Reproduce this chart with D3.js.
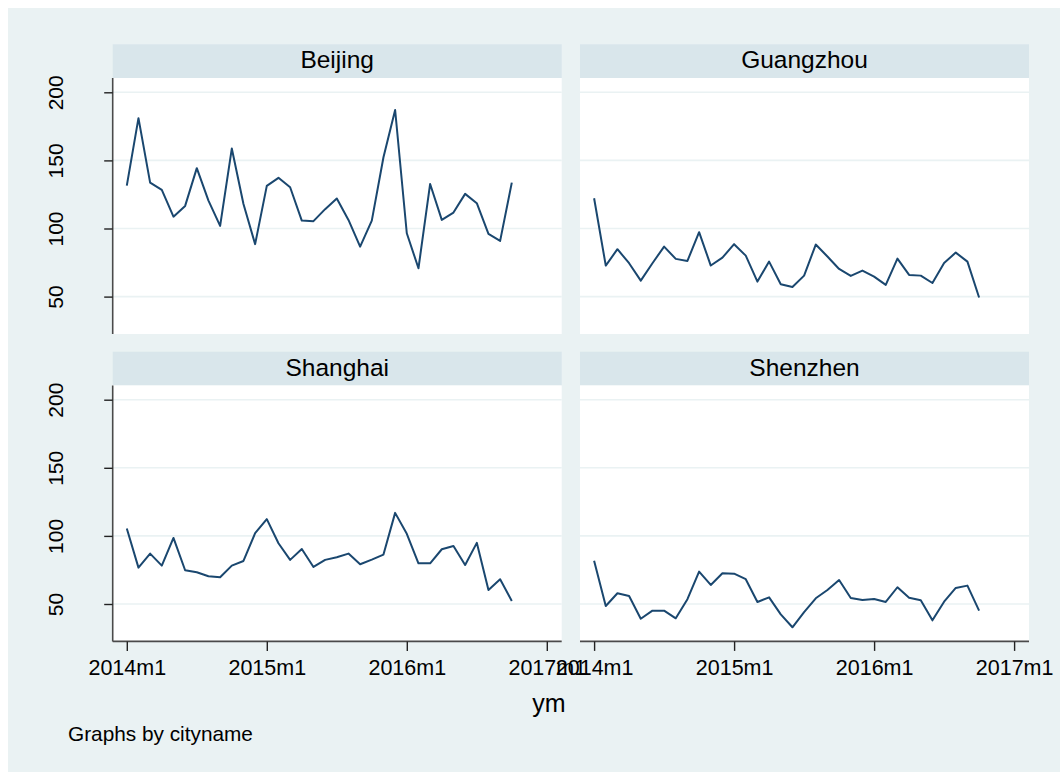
<!DOCTYPE html>
<html>
<head>
<meta charset="utf-8">
<script src="https://cdn.jsdelivr.net/npm/d3@7/dist/d3.min.js"></script>
<style>
  html, body { margin: 0; padding: 0; background: #ffffff; }
  svg { display: block; }
  text { font-family: "Liberation Sans", Arial, sans-serif; fill: #000; }
</style>
</head>
<body>
<svg id="chart" width="1060" height="772"></svg>
<script>
// ---------------- data ----------------
const cities = ["Beijing", "Guangzhou", "Shanghai", "Shenzhen"];
const months = ["2014m1","2014m2","2014m3","2014m4","2014m5","2014m6","2014m7","2014m8","2014m9","2014m10","2014m11","2014m12",
                "2015m1","2015m2","2015m3","2015m4","2015m5","2015m6","2015m7","2015m8","2015m9","2015m10","2015m11","2015m12",
                "2016m1","2016m2","2016m3","2016m4","2016m5","2016m6","2016m7","2016m8","2016m9","2016m10"];
const beijing   = [131.5,181,133.7,128.3,108.7,116.6,144.3,120.5,101.9,158.7,118,88.5,131.3,137.2,130.3,105.8,105.4,114.2,122,106.3,86.7,105.8,152.3,187,96.5,70.8,132.7,106.3,111.7,125.4,118.6,96,90.9,133.7];
const guangzhou = [122.2,72.8,84.8,74.5,61.7,74.5,86.7,77.7,76.2,97.3,72.8,78.6,88.5,80.1,61,75.7,59.1,57.1,65.4,88.2,79.4,70.3,65.2,69.1,64.7,58.6,77.9,65.9,65.4,60,74.7,82.3,75.7,49.3];
const shanghai  = [105.4,76.7,87,78.2,98.5,74.8,73.3,70.4,69.6,78.2,81.6,102,112.3,94.6,82.4,90.4,77.2,82.4,84.3,87,79.2,82.6,86.3,116.9,101.5,79.9,79.9,90.2,92.6,78.7,94.9,60.3,68.2,52.2];
const shenzhen  = [81.8,48.5,57.9,55.9,39.2,45.1,45.1,39.5,53.5,73.8,64,72.6,72.3,68.2,51.5,54.9,42.4,32.9,44.1,54.2,60.3,67.6,54.4,52.9,53.7,51.5,62.3,54.6,52.7,38,51.7,61.8,63.5,45.1];
const seriesByCity = [beijing, guangzhou, shanghai, shenzhen];
const xTickMonths = [0, 12, 24, 36];
const xTickLabels = ["2014m1", "2015m1", "2016m1", "2017m1"];
const yTicks = [50, 100, 150, 200];
const xTitle = "ym";
const noteText = "Graphs by cityname";

// ---------------- layout ----------------
const svg = d3.select("#chart");
const C = { bg: "#EAF2F3", strip: "#D9E6EB", plot: "#FFFFFF", grid: "#EAF2F3", line: "#1A476F", axis: "#4a4a4a" };

svg.append("rect").attr("x", 8).attr("y", 8).attr("width", 1052).attr("height", 764).attr("fill", C.bg);

const colLeft = [112.7, 580];
const panelW = 449;
const rowStripTop = [44.3, 351.7];
const stripH = 33.7;
const plotH = 256;

cities.forEach((city, i) => {
  const col = i % 2, row = Math.floor(i / 2);
  const L = colLeft[col];
  const sTop = rowStripTop[row];
  const pTop = sTop + stripH;
  const pBot = pTop + plotH;

  const x = d3.scaleLinear().domain([0, 36]).range([L + 14.1, L + 434.1]);
  const y = d3.scaleLinear().domain([50, 200]).range([pTop + 218.6, pTop + 14.3]);

  const g = svg.append("g");
  // strip
  g.append("rect").attr("x", L).attr("y", sTop).attr("width", panelW).attr("height", stripH).attr("fill", C.strip);
  g.append("text").attr("x", L + panelW / 2).attr("y", sTop + 24)
    .attr("text-anchor", "middle").style("font-size", "24.5px").text(city);
  // plot region
  g.append("rect").attr("x", L).attr("y", pTop).attr("width", panelW).attr("height", plotH).attr("fill", C.plot);
  // grid
  g.selectAll("line.grid").data(yTicks).join("line")
    .attr("x1", L).attr("x2", L + panelW)
    .attr("y1", d => y(d)).attr("y2", d => y(d))
    .attr("stroke", C.grid).attr("stroke-width", 1.6);

  // series line
  const data = seriesByCity[i].map((v, k) => ({ m: months.indexOf(months[k]), v }));
  g.append("path").datum(data)
    .attr("fill", "none").attr("stroke", C.line).attr("stroke-width", 2).attr("stroke-linejoin", "round")
    .attr("d", d3.line().x(d => x(d.m)).y(d => y(d.v)));

  // y axis (left column)
  if (col === 0) {
    const ya = d3.axisLeft(y).tickValues(yTicks).tickSize(8.5).tickPadding(0).tickFormat(d3.format("d"));
    const ag = g.append("g").attr("transform", `translate(${L},0)`).call(ya);
    ag.select(".domain").attr("d", `M0,${pTop}V${pBot}`).attr("stroke", C.axis).attr("stroke-width", 1.6);
    ag.selectAll(".tick line").attr("stroke", "#222").attr("stroke-width", 1.4);
    ag.selectAll(".tick text").remove();
    ag.selectAll(".tick").append("text")
      .attr("transform", "translate(-50,0) rotate(-90)")
      .attr("text-anchor", "middle").attr("y", 0)
      .style("font-size", "21px").style("fill", "#000")
      .attr("font-family", "Liberation Sans, Arial, sans-serif")
      .text(d => d);
  }
  // x axis (bottom row)
  if (row === 1) {
    const xa = d3.axisBottom(x).tickValues(xTickMonths).tickSize(9.5).tickPadding(0)
      .tickFormat((d, k) => xTickLabels[k]);
    const ag = g.append("g").attr("transform", `translate(0,${pBot})`).call(xa);
    ag.select(".domain").attr("d", `M${L},0H${L + panelW}`).attr("stroke", C.axis).attr("stroke-width", 1.6);
    ag.selectAll(".tick line").attr("stroke", "#222").attr("stroke-width", 1.4);
    ag.selectAll(".tick text").attr("dy", null).attr("y", 34)
      .style("font-size", "21.5px").style("fill", "#000")
      .attr("font-family", "Liberation Sans, Arial, sans-serif");
  }
});

svg.append("text").attr("x", 549).attr("y", 712).attr("text-anchor", "middle")
  .style("font-size", "25px").text(xTitle);
svg.append("text").attr("x", 68).attr("y", 741).attr("text-anchor", "start")
  .style("font-size", "20.8px").text(noteText);
</script>
</body>
</html>
